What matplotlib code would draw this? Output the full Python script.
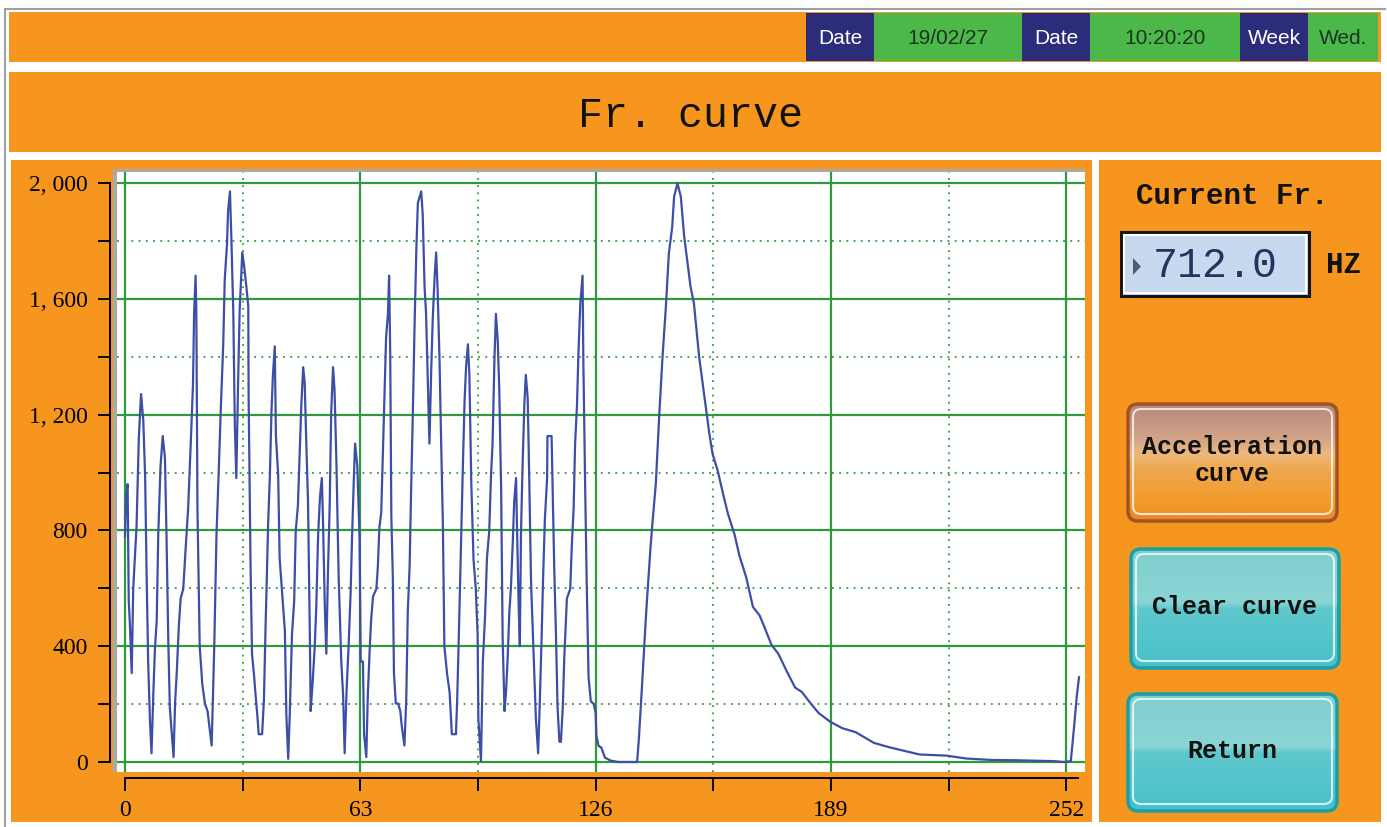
import numpy as np
import matplotlib.pyplot as plt
import matplotlib.colors as mcolors
from matplotlib.patches import Rectangle, FancyBboxPatch, Polygon

W, H = 1387, 827

ORANGE = "#f7961e"
NAVY = "#2b2d7a"
HEAD_GREEN = "#4cb84a"
GRID_GREEN = "#2f9a3c"
CURVE = "#3d4ea6"

# texts on the screen
header_labels = ["Date", "19/02/27", "Date", "10:20:20", "Week", "Wed."]
title_text = "Fr. curve"
current_label = "Current Fr."
current_value = "712.0"
unit_text = "HZ"
button_labels = ["Acceleration\ncurve", "Clear curve", "Return"]

x_ticks = [0, 63, 126, 189, 252]
x_minor = [31.5, 94.5, 157.5, 220.5]
y_ticks = [0, 400, 800, 1200, 1600, 2000]
y_minor = [200, 600, 1000, 1400, 1800]

# curve vertices (sample index, frequency)
sample_idx = [
    0.0, 0.3, 0.7, 1.0, 1.3, 1.8, 2.2, 3.1, 3.7, 4.3, 4.9, 5.4, 5.8, 6.2, 6.7, 7.1,
    7.6, 8.0, 8.5, 8.9, 9.5, 10.1, 10.7, 11.1, 11.6, 12.0, 12.7, 13.0, 13.4, 13.9,
    14.4, 14.9, 15.6, 16.2, 16.9, 17.6, 18.2, 18.5, 18.9, 19.1, 19.4, 20.0, 20.7,
    21.4, 22.1, 22.6, 23.2, 23.9, 24.5, 25.1, 25.7, 26.3, 26.7, 27.3, 27.6, 28.1,
    28.5, 29.0, 29.4, 29.8, 30.3, 30.7, 31.4, 31.9, 32.5, 33.0, 33.1, 33.6, 34.0,
    34.5, 34.9, 35.5, 35.8, 36.7, 37.2, 37.6, 38.0, 38.3, 38.8, 39.2, 39.6, 40.1,
    40.4, 41.0, 41.4, 42.0, 42.8, 43.2, 43.7, 44.1, 44.7, 45.3, 45.7, 46.3, 46.8,
    47.2, 47.7, 48.1, 48.6, 49.0, 49.5, 49.7, 50.2, 50.8, 51.2, 51.7, 52.2, 52.7,
    53.0, 53.5, 53.9, 54.3, 54.8, 55.2, 55.7, 56.1, 56.6, 57.2, 57.9, 58.4, 58.8,
    59.3, 59.9, 60.4, 60.8, 61.3, 61.6, 62.2, 62.8, 63.1, 63.7, 64.0, 64.6, 65.0,
    65.5, 65.9, 66.4, 67.3, 67.7, 68.1, 68.6, 69.0, 69.5, 69.9, 70.4, 70.7, 71.0,
    71.3, 71.7, 72.0, 72.5, 73.1, 73.7, 74.1, 74.8, 75.3, 75.7, 76.2, 76.6, 77.1,
    77.5, 78.0, 78.4, 78.9, 79.3, 79.7, 80.2, 80.6, 81.1, 81.5, 82.0, 82.4, 82.9,
    83.3, 83.7, 84.2, 84.6, 85.1, 85.5, 86.2, 86.9, 87.5, 88.6, 88.9, 89.3, 89.8,
    90.4, 90.9, 91.3, 91.8, 92.2, 92.7, 93.3, 93.9, 94.4, 94.6, 95.3, 95.8, 96.4,
    96.9, 97.5, 98.0, 98.4, 98.9, 99.3, 99.8, 100.2, 100.7, 101.1, 101.6, 102.0,
    102.4, 102.9, 103.3, 103.8, 104.2, 104.7, 104.9, 105.4, 105.7, 106.0, 106.4,
    106.9, 107.3, 107.8, 108.2, 108.7, 109.6, 110.0, 110.6, 111.0, 111.5, 111.9,
    112.4, 113.0, 113.1, 114.2, 114.5, 114.9, 115.4, 115.8, 116.3, 116.7, 117.2,
    117.6, 118.3, 119.2, 119.6, 120.1, 120.5, 121.0, 121.4, 121.9, 122.5, 122.7,
    123.2, 123.6, 124.1, 124.7, 125.5, 126.0, 126.2, 126.8, 127.5, 128.5, 130.0,
    132.0, 137.1, 137.6, 138.5, 139.4, 139.8, 140.7, 141.2, 142.1, 143.0, 143.9,
    144.8, 145.6, 146.5, 147.0, 147.9, 148.8, 149.7, 150.5, 151.4, 152.3, 153.7,
    155.5, 156.4, 157.3, 158.7, 160.0, 161.4, 163.2, 164.5, 166.3, 168.1, 169.9,
    171.3, 173.1, 174.9, 177.1, 179.4, 181.2, 183.4, 185.7, 188.8, 192.0, 195.6,
    200.5, 204.6, 209.1, 212.7, 219.9, 225.3, 232.0, 238.8, 248.7, 251.4, 253.2,
    254.1, 254.8, 255.4,
]
freq = [
    780, 920, 960, 560, 479, 307, 598, 816, 1119, 1271, 1180, 981, 637, 347, 136, 30,
    241, 387, 492, 783, 1020, 1126, 1050, 789, 413, 189, 70, 17, 202, 321,
    466, 565, 598, 730, 875, 1100, 1304, 1548, 1680, 1548, 875, 400, 268,
    202, 176, 123, 57, 400, 789, 1007, 1238, 1443, 1667, 1786, 1905, 1971,
    1799, 1548, 1166, 981, 1324, 1562, 1760, 1713, 1641, 1575, 1258, 690, 374,
    307, 241, 149, 96, 96, 215, 453, 651, 816, 994, 1205, 1337, 1436,
    1126, 994, 704, 598, 453, 162, 11, 162, 440, 558, 796, 888, 1073,
    1232, 1364, 1311, 1073, 898, 426, 176, 268, 400, 532, 783, 915, 981,
    836, 532, 374, 638, 888, 1205, 1364, 1284, 1034, 638, 347, 228, 30,
    241, 413, 585, 783, 994, 1100, 1020, 770, 347, 347, 96, 17, 228,
    387, 492, 572, 598, 677, 809, 862, 1047, 1271, 1469, 1548, 1680, 1416,
    849, 638, 307, 202, 202, 176, 123, 57, 215, 519, 677, 941, 1232,
    1496, 1773, 1931, 1954, 1971, 1892, 1641, 1548, 1298, 1100, 1364, 1536, 1680,
    1760, 1628, 1390, 1126, 821, 400, 307, 241, 96, 96, 202, 400, 677,
    994, 1245, 1364, 1443, 1337, 968, 700, 600, 440, 149, 4, 347, 506,
    704, 796, 994, 1100, 1390, 1548, 1452, 1284, 941, 426, 176, 241,
    347, 519, 598, 756, 902, 981, 836, 532, 400, 783, 1007,
    1232, 1337, 1258, 994, 623, 293, 149, 30, 189, 413, 623,
    836, 981, 1126, 1126, 929, 677, 426, 189, 70, 70, 189,
    360, 565, 598, 743, 875, 1100, 1232, 1416, 1588, 1680, 1390,
    941, 623, 293, 210, 200, 170, 90, 55, 50, 15, 5,
    0, 0, 86, 283, 490, 571, 744, 825, 960, 1193, 1400,
    1573, 1758, 1849, 1953, 1999, 1953, 1815, 1734, 1642, 1585, 1400,
    1225, 1137, 1064, 1005, 932, 858, 785, 712, 638, 536, 506,
    462, 404, 374, 315, 257, 242, 205, 169, 139, 117, 103,
    66, 51, 37, 26, 22, 12, 7, 6, 3, 0, 3,
    125, 227, 293,
]


def gradient(stops, n=200):
    pos = [s[0] for s in stops]
    cols = np.array([mcolors.to_rgb(s[1]) for s in stops])
    t = np.linspace(0, 1, n)
    img = np.stack([np.interp(t, pos, cols[:, k]) for k in range(3)], axis=1)
    return img[:, None, :]


def draw_button(bg, box, stops, edge, label):
    x0, y0, x1, y1 = box
    r = 10
    patch = FancyBboxPatch((x0 + r, y0 + r), x1 - x0 - 2 * r, y1 - y0 - 2 * r,
                           boxstyle="round,pad=%d" % r, fc="none", ec=edge, lw=2.5, zorder=4)
    bg.add_patch(patch)
    im = bg.imshow(gradient(stops), extent=(x0, x1, y1, y0), aspect="auto",
                   interpolation="bilinear", zorder=3)
    im.set_clip_path(patch)
    inner = FancyBboxPatch((x0 + r + 3, y0 + r + 3), x1 - x0 - 2 * r - 6, y1 - y0 - 2 * r - 8,
                           boxstyle="round,pad=%d" % (r - 2), fc="none", ec="white",
                           lw=1.5, alpha=0.75, zorder=4)
    bg.add_patch(inner)
    bg.text((x0 + x1) / 2, (y0 + y1) / 2 - 2, label, ha="center", va="center",
            family="Liberation Mono", weight="bold", fontsize=18, color="#111111",
            linespacing=1.15, zorder=5)


fig = plt.figure(figsize=(W / 100, H / 100), dpi=100)
plt.rcParams["font.family"] = "Liberation Serif"

bg = fig.add_axes([0, 0, 1, 1], zorder=0)
bg.axis("off")

# screen frame
bg.add_patch(Rectangle((0, 0), W, H, fc="white", ec="none", zorder=0))
bg.plot([5, 1385], [9, 9], color="#a0a0a0", lw=1.5, zorder=1)
bg.plot([5, 5], [9, H], color="#a0a0a0", lw=1.5, zorder=1)

# header bar with date / time cells
bg.add_patch(Rectangle((9, 12), 1372, 50, fc=ORANGE, ec="none", zorder=1))
cell_edges = [806, 874, 1022, 1090, 1240, 1308, 1378]
for i, lab in enumerate(header_labels):
    navy = i % 2 == 0
    bg.add_patch(Rectangle((cell_edges[i], 13), cell_edges[i + 1] - cell_edges[i], 48,
                           fc=NAVY if navy else HEAD_GREEN, ec="none", zorder=2))
    bg.text((cell_edges[i] + cell_edges[i + 1]) / 2, 38, lab, ha="center", va="center",
            family="Liberation Sans", fontsize=15,
            color="white" if navy else "#1c3320", zorder=3)

# title bar
bg.add_patch(Rectangle((9, 72), 1372, 80, fc=ORANGE, ec="none", zorder=1))
bg.text(690, 116, title_text, ha="center", va="center", family="Liberation Mono",
        fontsize=30, color="#111111", zorder=3)

# panels
bg.add_patch(Rectangle((11, 160), 1081, 662, fc=ORANGE, ec="none", zorder=1))
bg.add_patch(Rectangle((1099, 160), 282, 662, fc=ORANGE, ec="none", zorder=1))
bg.add_patch(Rectangle((113, 169), 972, 603, fc="#a9a9a9", ec="none", zorder=2))

# current frequency display
bg.text(1232, 196, current_label, ha="center", va="center", family="Liberation Mono",
        weight="bold", fontsize=21, color="#111111", zorder=3)
bg.add_patch(Rectangle((1121, 232), 188, 64, fc="#c6d9ef", ec="#151515", lw=2.2, zorder=2))
bg.add_patch(Rectangle((1124, 235), 182, 58, fc="none", ec="white", lw=1.5, zorder=3))
bg.add_patch(Polygon([[1133, 258], [1133, 275], [1141, 266.5]], closed=True,
                     fc="#4d5a78", ec="none", zorder=3))
bg.text(1215, 266, current_value, ha="center", va="center", family="Liberation Mono",
        fontsize=30, color="#24345e", zorder=3)
bg.text(1343, 265, unit_text, ha="center", va="center", family="Liberation Mono",
        weight="bold", fontsize=21, color="#111111", zorder=3)

# buttons
orange_stops = [(0, "#b5897c"), (0.3, "#d3a488"), (0.42, "#ecb97d"), (0.55, "#efa850"),
                (0.85, "#f39a2a"), (1, "#e5882a")]
teal_stops = [(0, "#7fcfcf"), (0.45, "#8ad5d4"), (0.5, "#60c8cc"), (1, "#47c1c9")]
draw_button(bg, (1128, 404, 1337, 521), orange_stops, "#a35222", button_labels[0])
draw_button(bg, (1131, 549, 1339, 668), teal_stops, "#1c9ea6", button_labels[1])
draw_button(bg, (1128, 694, 1337, 811), teal_stops, "#1c9ea6", button_labels[2])

bg.set_xlim(0, W)
bg.set_ylim(H, 0)

# frequency curve
ax = fig.add_axes([117 / W, 1 - 772 / H, 968 / W, 600 / H], zorder=5)
ax.set_facecolor("white")
ax.plot(sample_idx, freq, color=CURVE, lw=1.6, zorder=3)
ax.set_xlim(-2.14, 257.0)
ax.set_ylim(-34.5, 2038)

ax.spines["top"].set_visible(False)
ax.spines["right"].set_visible(False)
ax.spines["left"].set_position(("outward", 5))
ax.spines["left"].set_bounds(0, 2000)
ax.spines["bottom"].set_position(("outward", 4.3))
ax.spines["bottom"].set_bounds(0, 255)
for s in ["left", "bottom"]:
    ax.spines[s].set_linewidth(1.4)

ax.set_xticks(x_ticks)
ax.set_xticks(x_minor, minor=True)
ax.set_yticks(y_ticks)
ax.set_yticks(y_minor, minor=True)
ax.set_xticklabels([str(v) for v in x_ticks])
ax.set_yticklabels([("{:,}".format(v)).replace(",", ", ") for v in y_ticks])
ax.tick_params(which="both", direction="out", length=9, width=1.4, colors="black",
               labelsize=17, pad=7)

ax.set_axisbelow(True)
ax.grid(which="major", color=GRID_GREEN, lw=1.6)
ax.grid(which="minor", color=GRID_GREEN, lw=1.3, linestyle=(0, (1, 3)))

fig.savefig("out.png", dpi=100)
